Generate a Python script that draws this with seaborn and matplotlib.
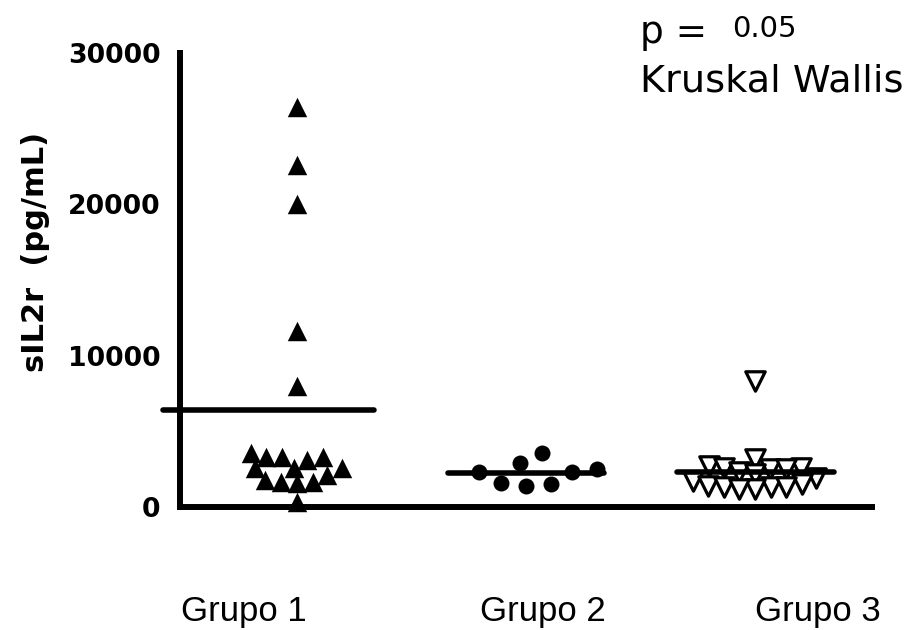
import matplotlib
matplotlib.use("Agg")
import matplotlib.pyplot as plt
import matplotlib.transforms as mtransforms
import numpy as np
import pandas as pd
import seaborn as sns

# ---- data ----
groups = ["Grupo 1", "Grupo 2", "Grupo 3"]
grupo1 = [26400, 22600, 20000, 11600, 8000,
          3280, 2560, 1770, 3280, 2560, 1640, 2100, 330,
          3280, 2560, 1575, 3540, 3080, 1640]
grupo2 = [2300, 1575, 2890, 3540, 1380, 2500, 1510, 2300]
grupo3 = [8300, 3200, 2700, 2600, 2600, 2500, 2500, 2300, 2200,
          1900, 1700, 1500, 1400, 1300, 1300, 1200, 1200, 1300]
yticks = [0, 10000, 20000, 30000]
ylabel = "sIL2r  (pg/mL)"
p_label = "p ="
p_value = "0.05"
test_name = "Kruskal Wallis"

series = [grupo1, grupo2, grupo3]
df = pd.DataFrame({
    "grupo": [g for g, s in zip(groups, series) for _ in s],
    "valor": [v for s in series for v in s],
})

sns.set_style("white")
plt.rcParams["font.family"] = ["DejaVu Sans"]
for k in ["text.color", "axes.labelcolor", "xtick.color", "ytick.color", "axes.edgecolor"]:
    plt.rcParams[k] = "black"

fig = plt.figure(figsize=(9.12, 6.3), dpi=100)
ax = fig.add_axes([0.1974, 0.1952, 0.7588, 0.7214])
ax.set_xlim(-0.511, 2.511)
ax.set_ylim(0, 30000)

styles = [
    dict(marker="^", color="black", linewidth=0),
    dict(marker="o", color="black", linewidth=0),
    dict(marker="v", color="white", edgecolor="black", linewidth=2.3),
]
layout_sizes = [11, 17, 8.5]   # size used by the beeswarm to place points
draw_sizes = [14, 11.5, 14]    # size the markers are drawn with
for g, st, ls in zip(groups, styles, layout_sizes):
    sub = df[df["grupo"] == g]
    sns.swarmplot(data=sub, x="grupo", y="valor", order=groups, ax=ax, size=ls,
                  clip_on=False, zorder=3, warn_thresh=1.0, **st)
ax.set_xlim(-0.511, 2.511)
ax.set_ylim(0, 30000)
fig.canvas.draw()  # let seaborn's beeswarm place the points

counts = {len(s): i for i, s in enumerate(series)}
for c in ax.collections:
    n = len(c.get_offsets())
    if n in counts:
        if "draw" in c.__dict__:
            del c.__dict__["draw"]
        c.set_sizes([draw_sizes[counts[n]] ** 2])

# mean lines
half = [(-0.585, 0.336), (-0.34, 0.34), (-0.34, 0.345)]
for i, g in enumerate(groups):
    m = df.loc[df["grupo"] == g, "valor"].mean()
    ax.plot([i + half[i][0], i + half[i][1]], [m, m], color="black", lw=4,
            solid_capstyle="round", clip_on=False, zorder=4)

ax.set_xlim(-0.511, 2.511)
ax.set_ylim(0, 30000)
ax.set_yticks(yticks)
ax.set_yticklabels([str(t) for t in yticks], fontsize=19.2, fontweight="bold")
ax.tick_params(axis="y", direction="out", length=13, width=3.6, pad=1, color="black")
ax.tick_params(axis="x", length=0, pad=63)
for lab in ax.get_xticklabels():
    lab.set_fontfamily(["Liberation Sans"])
    lab.set_fontsize(25)
ax.set_xlabel("")
ax.set_ylabel(ylabel, fontsize=22, fontweight="bold")
ax.yaxis.set_label_coords((50 - 180) / 692, (507 - 252) / 454.5)

# shift the group labels as in the reference
offsets_px = [-53.5, 17, 63]
for lab, dx in zip(ax.get_xticklabels(), offsets_px):
    lab.set_transform(lab.get_transform() +
                      mtransforms.ScaledTranslation(dx / 100, 0, fig.dpi_scale_trans))

for s in ["top", "right"]:
    ax.spines[s].set_visible(False)
for s in ["left", "bottom"]:
    ax.spines[s].set_linewidth(4.3)
    ax.spines[s].set_color("black")
    ax.spines[s].set_capstyle("projecting")

fig.text(640 / 912, 1 - 43 / 630, p_label, fontsize=27, va="baseline", ha="left")
fig.text(732 / 912, 1 - 37 / 630, p_value, fontsize=21, va="baseline", ha="left")
fig.text(640 / 912, 1 - 92 / 630, test_name, fontsize=27.5, va="baseline", ha="left")

fig.savefig("out.png", dpi=100)
